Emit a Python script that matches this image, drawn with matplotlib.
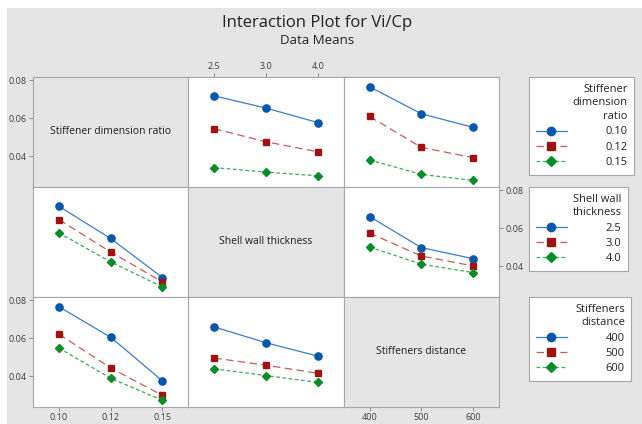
import matplotlib
matplotlib.use('Agg')
import matplotlib.pyplot as plt
from matplotlib.patches import Rectangle
from matplotlib.lines import Line2D

plt.rcParams['font.family'] = ['Open Sans', 'DejaVu Sans']

# ---------------- data ----------------
factor_names = ['Stiffener dimension ratio', 'Shell wall thickness', 'Stiffeners distance']
legend_titles = ['Stiffener\ndimension\nratio', 'Shell wall\nthickness', 'Stiffeners\ndistance']
ratio_levels = ['0.10', '0.12', '0.15']
thickness_levels = ['2.5', '3.0', '4.0']
distance_levels = ['400', '500', '600']
yticks = [0.04, 0.06, 0.08]

# rows: traced factor levels, columns: x-factor levels
means_ratio_by_thickness = [[0.0717, 0.0653, 0.0577],
                            [0.0545, 0.0476, 0.0424],
                            [0.0341, 0.0317, 0.0298]]
means_ratio_by_distance = [[0.0765, 0.0623, 0.0552],
                           [0.0609, 0.0447, 0.0393],
                           [0.0381, 0.0305, 0.0274]]
means_thickness_by_ratio = [[0.0715, 0.0546, 0.0341],
                            [0.0645, 0.0475, 0.0318],
                            [0.0576, 0.0423, 0.0292]]
means_thickness_by_distance = [[0.0661, 0.0498, 0.0440],
                               [0.0574, 0.0454, 0.0402],
                               [0.0501, 0.0411, 0.0367]]
means_distance_by_ratio = [[0.0765, 0.0605, 0.0376],
                           [0.0621, 0.0444, 0.0300],
                           [0.0548, 0.0390, 0.0274]]
means_distance_by_thickness = [[0.0659, 0.0576, 0.0506],
                               [0.0496, 0.0458, 0.0416],
                               [0.0439, 0.0404, 0.0368]]

levels = [ratio_levels, thickness_levels, distance_levels]
panels = {(0, 1): means_ratio_by_thickness, (0, 2): means_ratio_by_distance,
          (1, 0): means_thickness_by_ratio, (1, 2): means_thickness_by_distance,
          (2, 0): means_distance_by_ratio, (2, 1): means_distance_by_thickness}

# ---------------- styles ----------------
styles = [
    dict(color='#3d7cc4', mfc='#0a56a8', mec='#0a56a8', marker='o', ms=5.2, ls='-'),
    dict(color='#c45c5c', mfc='#9c1313', mec='#9c1313', marker='s', ms=4.6, ls=(0, (6, 3.5))),
    dict(color='#3daa58', mfc='#0d8a2a', mec='#0d8a2a', marker='D', ms=4.4, ls=(0, (3, 2))),
]
GRAY = '#e5e5e5'
EDGE = '#a6a6a6'
TICKC = '#8c8c8c'
LABC = '#3c3c3c'

W, H = 642, 424
fig = plt.figure(figsize=(W / 100, H / 100), dpi=100, facecolor='white')
fig.patches.append(Rectangle((7 / W, 0), 1 - 7 / W, 1 - 8 / H, transform=fig.transFigure,
                             facecolor=GRAY, edgecolor='none', zorder=-10))

fig.text(317 / W, 1 - 23 / H, 'Interaction Plot for Vi/Cp', ha='center', va='center',
         fontsize=12, color='#222222')
fig.text(317 / W, 1 - 41 / H, 'Data Means', ha='center', va='center',
         fontsize=9.5, color='#222222')

xe = [33, 188.33, 343.67, 499]
ye = [77, 187, 297, 407]
ylim = (0.0239, 0.0816)

axes = [[None] * 3 for _ in range(3)]
for r in range(3):
    for c in range(3):
        ax = fig.add_axes([xe[c] / W, 1 - ye[r + 1] / H, (xe[c + 1] - xe[c]) / W,
                           (ye[r + 1] - ye[r]) / H])
        ax.set_xlim(-0.5, 2.5)
        ax.set_ylim(*ylim)
        ax.set_facecolor(GRAY if r == c else 'white')
        for s in ax.spines.values():
            s.set_color(EDGE)
            s.set_linewidth(0.8)
        ax.tick_params(which='both', direction='out', length=3, width=0.7, color=TICKC,
                       labelsize=6.5, labelcolor=LABC, pad=1.5,
                       left=False, right=False, top=False, bottom=False,
                       labelleft=False, labelright=False, labeltop=False, labelbottom=False)
        ax.set_xticks(range(3))
        ax.set_xticklabels(levels[c])
        ax.set_yticks(yticks)
        ax.set_yticklabels(['%.2f' % v for v in yticks])
        if r == c:
            ax.text(0.5, 0.5, factor_names[r], transform=ax.transAxes, ha='center',
                    va='center', fontsize=7.5, color='#1e1e1e')
        else:
            data = panels[(r, c)]
            for k, series in enumerate(data):
                st = styles[k]
                ax.plot(range(3), series, color=st['color'], ls=st['ls'], lw=0.9,
                        marker=st['marker'], ms=st['ms'], mfc=st['mfc'], mec=st['mec'],
                        zorder=3)
        axes[r][c] = ax

# tick placement like the reference
axes[0][0].tick_params(left=True, labelleft=True)
axes[1][2].tick_params(right=True, labelright=True)
axes[2][0].tick_params(left=True, labelleft=True)
axes[2][0].tick_params(bottom=True, labelbottom=True)
axes[2][2].tick_params(bottom=True, labelbottom=True)
axes[0][1].tick_params(top=True, labeltop=True)

# legends
leg_tops = [77, 187, 297]
for r in range(3):
    handles = []
    for k in range(3):
        st = styles[k]
        handles.append(Line2D([], [], color=st['color'], ls=st['ls'], lw=0.9,
                              marker=st['marker'], ms=st['ms'] * 1.15, mfc=st['mfc'],
                              mec=st['mec']))
    leg = fig.legend(handles, levels[r], title=legend_titles[r], loc='upper left',
                     bbox_to_anchor=(529 / W, 1 - leg_tops[r] / H), fontsize=8,
                     title_fontsize=8, frameon=True, fancybox=False, borderpad=0.6,
                     handlelength=2.8, handletextpad=3.5, labelspacing=0.38,
                     borderaxespad=0, alignment='right', numpoints=1, framealpha=1)
    leg.get_title().set_multialignment('right')
    leg.get_title().set_color('#222222')
    leg.get_title().set_linespacing(1.35)
    for t in leg.get_texts():
        t.set_color('#222222')
    fr = leg.get_frame()
    fr.set_edgecolor(EDGE)
    fr.set_linewidth(0.8)
    fr.set_facecolor('white')

fig.savefig('out.png', dpi=100, facecolor=fig.get_facecolor())
